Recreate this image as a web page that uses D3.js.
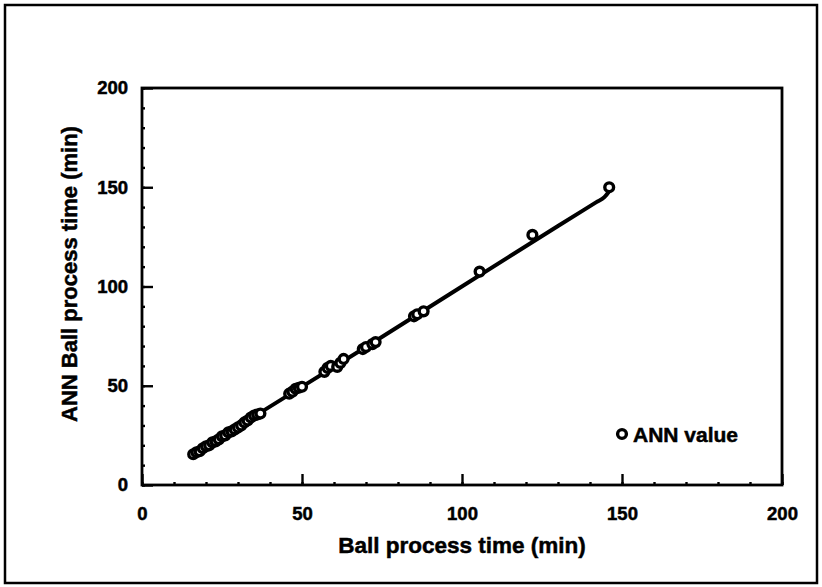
<!DOCTYPE html>
<html>
<head>
<meta charset="utf-8">
<script src="https://cdn.jsdelivr.net/npm/d3@7"></script>
<style>
  html, body { margin: 0; padding: 0; background: #fff; }
  svg { display: block; }
  text { font-family: "Liberation Sans", Arial, sans-serif; font-weight: bold; fill: #000; stroke: #000; stroke-width: 0.5px; }
</style>
</head>
<body>
<svg id="chart" width="822" height="587"></svg>
<script>
// Measured ball process time (min) and the ANN estimate for each run
const ballTime = [16, 17, 18, 19, 20, 21, 22, 23, 24, 25, 26, 27, 28, 29, 30, 31, 32, 33, 34, 35, 36, 37,
                  46, 47, 48, 49, 50,
                  57, 58, 59, 61, 62, 63,
                  69, 70, 72, 73,
                  85, 86, 88,
                  105.5, 122, 146];
const annTime  = [15.5, 16.5, 17, 18.5, 19.5, 20, 21.5, 22, 23, 24.5, 25, 26.5, 27, 28, 29, 30, 31.5, 32.5, 34, 35, 35.5, 36,
                  46, 47, 48.5, 49, 49.5,
                  57, 59, 60, 59.5, 61.5, 63.5,
                  68.5, 69.5, 71, 72,
                  85, 86, 87.5,
                  107.5, 126, 150];

// Trend line drawn through the runs
const trendX = [16, 70, 130, 142, 144.5, 146];
const trendY = [15.5, 69.5, 130.5, 142.5, 145, 148];

const xTicks = [0, 50, 100, 150, 200];
const yTicks = [0, 50, 100, 150, 200];
const minorTicks = d3.range(0, 201, 10);
const legendLabel = "ANN value";

const svg = d3.select("#chart");
const plot = { left: 142, right: 782, top: 88, bottom: 485 };

const x = d3.scaleLinear().domain([0, 200]).range([plot.left, plot.right]);
const y = d3.scaleLinear().domain([0, 200]).range([plot.bottom, plot.top]);

// outer frame
svg.append("rect")
  .attr("x", 5).attr("y", 5).attr("width", 812).attr("height", 578)
  .attr("fill", "none").attr("stroke", "#000").attr("stroke-width", 2.5);

// plot box
svg.append("rect")
  .attr("x", plot.left).attr("y", plot.top)
  .attr("width", plot.right - plot.left).attr("height", plot.bottom - plot.top)
  .attr("fill", "none").attr("stroke", "#000").attr("stroke-width", 2.8);

// axes with inward ticks
svg.append("g").attr("transform", `translate(0,${plot.bottom})`)
  .call(d3.axisBottom(x).tickValues(xTicks).tickSize(-11).tickPadding(22).tickFormat(d3.format("d")));
svg.append("g").attr("transform", `translate(${plot.left},0)`)
  .call(d3.axisLeft(y).tickValues(yTicks).tickSize(-11).tickPadding(14).tickFormat(d3.format("d")));

// minor ticks
svg.append("g").attr("transform", `translate(0,${plot.bottom})`)
  .call(d3.axisBottom(x).tickValues(minorTicks).tickSize(-3).tickFormat(""));
svg.append("g").attr("transform", `translate(${plot.left},0)`)
  .call(d3.axisLeft(y).tickValues(minorTicks).tickSize(-3).tickFormat(""));

svg.selectAll(".domain").remove();
svg.selectAll(".tick line").attr("stroke", "#000").attr("stroke-width", 2.4);
svg.selectAll(".tick text")
  .attr("fill", "#000")
  .style("font-size", "18.5px")
  .style("font-family", "'Liberation Sans', Arial, sans-serif")
  .style("font-weight", "bold");

// axis titles
svg.append("text")
  .attr("x", (plot.left + plot.right) / 2).attr("y", 553)
  .attr("text-anchor", "middle").style("font-size", "22.5px")
  .text("Ball process time (min)");
svg.append("text")
  .attr("transform", "translate(77,274) rotate(-90)")
  .attr("text-anchor", "middle").style("font-size", "22px")
  .text("ANN Ball process time (min)");

// trend line
const pts = trendX.map((d, i) => [d, trendY[i]]);
svg.append("path")
  .datum(pts)
  .attr("d", d3.line().x(d => x(d[0])).y(d => y(d[1])).curve(d3.curveMonotoneX))
  .attr("fill", "none").attr("stroke", "#000").attr("stroke-width", 4);

// ANN points
svg.append("g").selectAll("circle")
  .data(ballTime.map((d, i) => [d, annTime[i]]))
  .join("circle")
  .attr("cx", d => x(d[0])).attr("cy", d => y(d[1]))
  .attr("r", 4.4).attr("fill", "#fff").attr("stroke", "#000").attr("stroke-width", 3.4);

// legend
const lg = svg.append("g").attr("transform", "translate(622,434)");
lg.append("circle").attr("r", 4.4).attr("fill", "#fff").attr("stroke", "#000").attr("stroke-width", 3.4);
lg.append("text").attr("x", 11).attr("y", 7.5).style("font-size", "21px").text(legendLabel);
</script>
</body>
</html>
